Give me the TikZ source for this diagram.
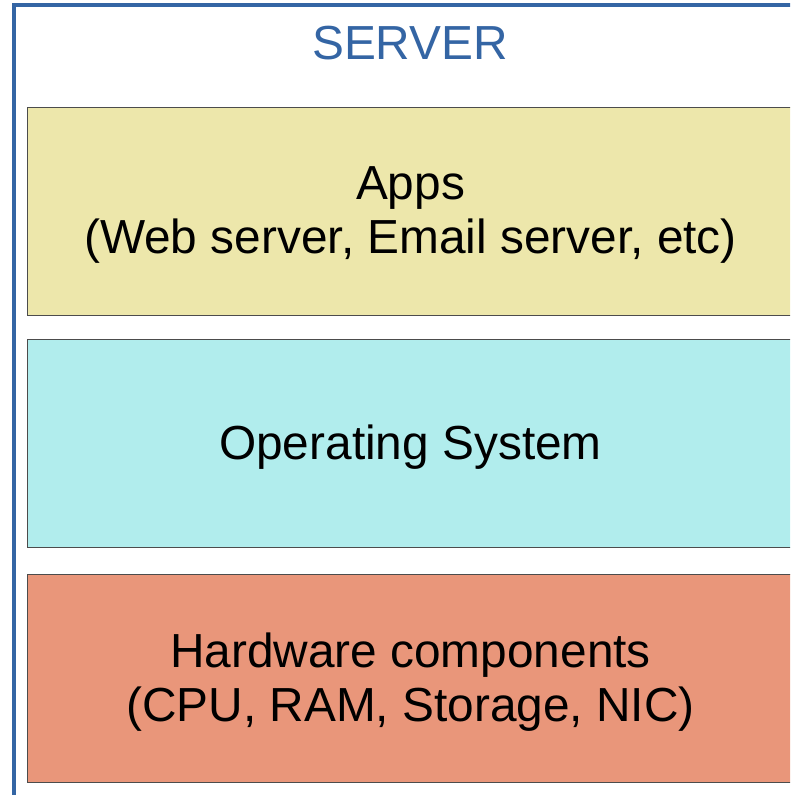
\documentclass[tikz,border=0pt]{standalone}
\usepackage{fontspec}
\setmainfont{Liberation Sans}
\definecolor{srvblue}{HTML}{3465A4}
\definecolor{appsfill}{HTML}{EDE7AB}
\definecolor{osfill}{HTML}{B1EDED}
\definecolor{hwfill}{HTML}{E9967A}
\begin{document}
\begin{tikzpicture}[x=1pt,y=-1pt,
  layer/.style={draw=black!70, line width=1pt, minimum width=766pt, minimum height=208pt, anchor=north west, inner sep=0pt},
  lbl/.style={font=\fontsize{47.8}{54}\selectfont, align=center, text=black, inner sep=0pt, yshift=-4pt}]
\useasboundingbox (0,0) rectangle (790,795);
\begin{scope}
\clip (0,0) rectangle (790,795);
\draw[srvblue, line width=3.6pt] (14,820) -- (14,5) -- (820,5);
\node[layer, fill=appsfill] (apps) at (27,106.5) {};
\node[layer, fill=osfill] (os) at (27,339) {};
\node[layer, fill=hwfill] (hw) at (27,573.5) {};
\end{scope}
\node[lbl] (appst) at (apps.center) {Apps\\(Web server, Email server, etc)};
\node[lbl] (ost) at (os.center) {Operating System};
\node[lbl] (hwt) at (hw.center) {Hardware components\\(CPU, RAM, Storage, NIC)};
\node[text=srvblue, font=\fontsize{47.8}{54}\selectfont, inner sep=0pt] (title) at (410,43) {SERVER};
\end{tikzpicture}
\end{document}
